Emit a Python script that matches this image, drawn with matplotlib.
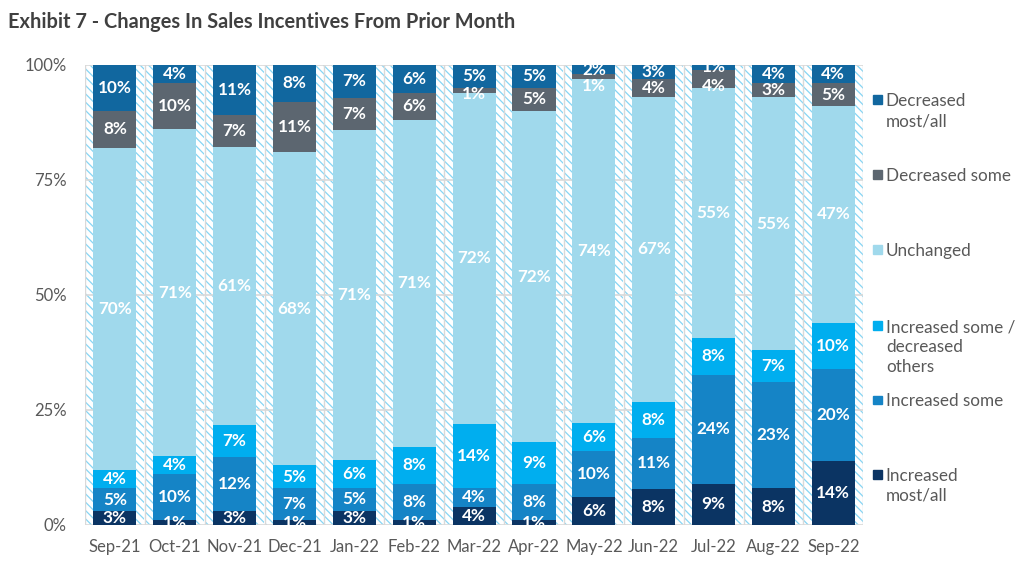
import matplotlib
matplotlib.use('Agg')
from matplotlib import pyplot as plt
from matplotlib.patches import Rectangle
import numpy as np

plt.rcParams['font.family'] = ['Lato', 'DejaVu Sans']
plt.rcParams['hatch.linewidth'] = 0.9

# %% Data (share of respondents, %)

months = ['Sep-21','Oct-21','Nov-21','Dec-21','Jan-22','Feb-22','Mar-22',
          'Apr-22','May-22','Jun-22','Jul-22','Aug-22','Sep-22']

incMost  = [3, 1, 3, 1, 3, 1, 4, 1, 6, 8, 9, 8, 14]
incSome  = [5, 10, 12, 7, 5, 8, 4, 8, 10, 11, 24, 23, 20]
incMixed = [4, 4, 7, 5, 6, 8, 14, 9, 6, 8, 8, 7, 10]
unchanged = [70, 71, 61, 68, 71, 71, 72, 72, 74, 67, 55, 55, 47]
decSome  = [8, 10, 7, 11, 7, 6, 1, 5, 1, 4, 4, 3, 5]
decMost  = [10, 4, 11, 8, 7, 6, 5, 5, 2, 3, 1, 4, 4]

series = [
    ('Increased\nmost/all', incMost, '#0b3463'),
    ('Increased some', incSome, '#1584c6'),
    ('Increased some /\ndecreased\nothers', incMixed, '#00aeef'),
    ('Unchanged', unchanged, '#a0d9ec'),
    ('Decreased some', decSome, '#5c6670'),
    ('Decreased\nmost/all', decMost, '#11679f'),
]

# %% Stack each month, scaled so every column fills 100%

raw = np.array([s[1] for s in series], dtype=float)
vals = raw/raw.sum(axis=0)*100
x = np.arange(len(months))

fig = plt.figure(figsize=(10.24,5.75),dpi=100)
ax = fig.add_axes([0.083,0.087,0.76,0.80])

# Hatched background columns and grid
ax.bar(x,100,width=0.985,bottom=0,color='white',edgecolor='#86d5f4',
       hatch='\\\\\\\\',linewidth=0,zorder=0)
for v in [0,25,50,75,100]:
    ax.axhline(v,color='#d9d9d9',lw=1.2,zorder=0.5)
for xb in np.arange(-0.5,len(months),1):
    ax.axvline(xb,color='#d9d9d9',lw=1.0,zorder=0.5)

bottom = np.zeros(len(months))
for k,((name,_,col),row) in enumerate(zip(series,vals)):
    ax.bar(x,row,width=0.72,bottom=bottom,color=col,zorder=2)
    for i in range(len(months)):
        y = bottom[i]+row[i]/2
        # small segments near the top push labels apart
        if k == 4 and vals[5][i] < 2.5: y = bottom[i]+row[i]-3.5
        if k == 4 and row[i] < 2.5: y = bottom[i]-1.5 if vals[5][i] < 3 else bottom[i]-0.4
        ax.text(x[i],y,'%d%%' % raw[k][i],ha='center',va='center',
                color='white',fontsize=12.3,fontweight='bold',zorder=3)
    bottom += row

ax.set_xlim(-0.5,len(months)-0.5)
ax.set_ylim(0,100)
ax.set_yticks([0,25,50,75,100])
ax.set_yticklabels(['0%','25%','50%','75%','100%'])
ax.set_xticks(x)
ax.set_xticklabels(months)
ax.tick_params(length=0,labelsize=12,colors='#595959',pad=10)
ax.tick_params(axis='y',pad=13)
for s in ax.spines.values(): s.set_visible(False)

# Legend on the right, top entry first
legY = [0.824,0.694,0.564,0.431,0.302,0.172]
for (name,_,col),yy in zip(series[::-1],legY):
    fig.patches.append(Rectangle((0.853,yy-0.005),0.0085,0.015,color=col,
                                 transform=fig.transFigure,figure=fig))
    fig.text(0.865,yy+0.014,name,ha='left',va='top',fontsize=12.3,
             color='#595959',linespacing=1.3)

fig.text(0.008,0.962,'Exhibit 7 - Changes In Sales Incentives From Prior Month',
         fontsize=14.4,fontweight='bold',color='#404040',va='center')

fig.savefig('out.png',dpi=100)
